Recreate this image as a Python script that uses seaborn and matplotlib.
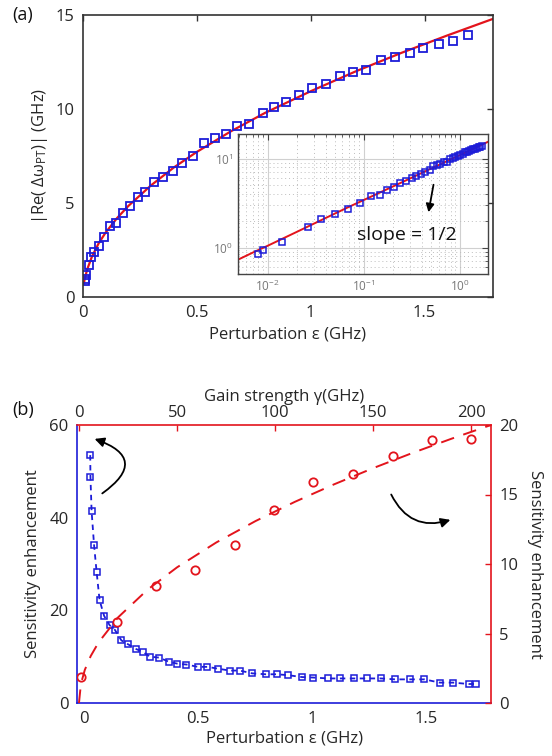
import matplotlib
matplotlib.use('Agg')
import matplotlib.pyplot as plt
import seaborn as sns

# ---- data ----
# (a) frequency splitting vs perturbation
eps_a = [0.008, 0.009, 0.014, 0.026, 0.036, 0.050, 0.069, 0.092, 0.12, 0.146, 0.175, 0.205,
         0.241, 0.275, 0.314, 0.351, 0.396, 0.436, 0.484, 0.531, 0.579, 0.627, 0.677,
         0.728, 0.791, 0.839, 0.890, 0.949, 1.007, 1.066, 1.127, 1.186, 1.241, 1.307,
         1.371, 1.434, 1.493, 1.563, 1.624, 1.690]
split_a = [0.85, 0.95, 1.15, 1.72, 2.11, 2.38, 2.71, 3.21, 3.78, 3.92, 4.48, 4.84,
           5.34, 5.60, 6.13, 6.40, 6.72, 7.14, 7.52, 8.21, 8.47, 8.67, 9.11,
           9.23, 9.80, 10.12, 10.39, 10.74, 11.10, 11.33, 11.76, 11.98, 12.07, 12.61,
           12.78, 12.96, 13.23, 13.44, 13.62, 13.94]
fit_eps = [0.0045, 0.007, 0.01, 0.02, 0.04, 0.07, 0.1, 0.15, 0.2, 0.3, 0.4, 0.5, 0.65,
           0.8, 1.0, 1.2, 1.4, 1.6, 1.8, 2.0]
fit_split = [0.70, 0.88, 1.05, 1.50, 2.15, 2.87, 3.43, 4.20, 4.85, 5.95, 6.90, 7.72, 8.82,
             9.80, 10.95, 12.02, 13.00, 13.92, 14.80, 15.60]

# (b) sensitivity enhancement
eps_b = [0.027, 0.028, 0.033, 0.044, 0.055, 0.068, 0.088, 0.112, 0.135, 0.164, 0.192,
         0.226, 0.258, 0.29, 0.329, 0.372, 0.408, 0.449, 0.5, 0.541, 0.588, 0.639,
         0.683, 0.737, 0.796, 0.845, 0.896, 0.955, 1.003, 1.072, 1.123, 1.186, 1.24,
         1.302, 1.365, 1.428, 1.493, 1.56, 1.619, 1.687, 1.72]
sens_eps = [53.5, 48.8, 41.4, 34.0, 28.3, 22.2, 18.8, 16.8, 15.8, 13.5, 12.7,
            11.7, 11.0, 10.0, 9.8, 8.9, 8.5, 8.3, 7.8, 7.8, 7.4, 7.0,
            7.0, 6.4, 6.2, 6.2, 6.0, 5.6, 5.5, 5.3, 5.3, 5.3, 5.3,
            5.3, 5.1, 5.1, 5.1, 4.4, 4.4, 4.1, 4.1]
gamma = [1.0, 19.5, 39.1, 59.2, 79.6, 99.5, 119.2, 139.6, 160.0, 180.0, 199.8]
sens_gamma = [1.85, 5.85, 8.44, 9.6, 11.4, 13.9, 15.9, 16.5, 17.8, 18.9, 19.0]
fit_gamma = [0, 1, 3, 6, 10, 20, 35, 50, 70, 90, 110, 130, 150, 170, 190, 210]
fit_sens = [0, 1.38, 2.39, 3.38, 4.36, 6.17, 8.16, 9.76, 11.55, 13.09, 14.47, 15.73,
            16.90, 17.99, 19.02, 20.0]

BLUE = '#1c1cd8'
RED = '#e3141c'

sns.set_style('white')
plt.rcParams['font.family'] = ['Open Sans', 'DejaVu Sans']
plt.rcParams['mathtext.fontset'] = 'custom'
plt.rcParams['mathtext.rm'] = 'Open Sans'
plt.rcParams['mathtext.it'] = 'Open Sans'
plt.rcParams['xtick.direction'] = 'in'
plt.rcParams['ytick.direction'] = 'in'
plt.rcParams['text.color'] = '#111111'

fig = plt.figure(figsize=(5.52, 7.56), dpi=100)
fs = 12

# ---------------- panel (a) ----------------
ax = fig.add_axes([0.150, 0.607, 0.743, 0.373])
sns.lineplot(x=fit_eps, y=fit_split, ax=ax, color=RED, lw=1.6, sort=False, estimator=None)
sns.lineplot(x=eps_a, y=split_a, ax=ax, marker='s', markersize=6, markerfacecolor='none',
             markeredgecolor=BLUE, markeredgewidth=1.3, linestyle='', sort=False, estimator=None)
ax.set_xlim(0, 1.8)
ax.set_ylim(0, 15)
ax.set_xticks([0, 0.5, 1, 1.5])
ax.set_xticklabels(['0', '0.5', '1', '1.5'])
ax.set_yticks([0, 5, 10, 15])
ax.tick_params(labelsize=fs, top=True, right=True, length=4, width=1, color='#333333', pad=6)
for s in ax.spines.values():
    s.set_color('#333333')
    s.set_linewidth(1.2)
ax.set_xlabel('Perturbation ε (GHz)', fontsize=fs, labelpad=4)
ax.set_ylabel(r'|Re( Δω$_{\mathrm{PT}}$)| (GHz)', fontsize=fs, labelpad=4)
fig.text(0.022, 0.980, '(a)', fontsize=13, va='center')

# inset (log-log)
ins = fig.add_axes([0.431, 0.638, 0.453, 0.185])
sns.lineplot(x=fit_eps, y=fit_split, ax=ins, color=RED, lw=1.4, sort=False, estimator=None)
sns.lineplot(x=eps_a, y=split_a, ax=ins, marker='s', markersize=4.5, markerfacecolor='none',
             markeredgecolor=BLUE, markeredgewidth=1.1, linestyle='', sort=False, estimator=None)
ins.set_xscale('log')
ins.set_yscale('log')
ins.set_xlim(0.0049, 1.96)
ins.set_ylim(0.51, 19)
ins.grid(which='major', color='#d0d0d0', lw=0.8, ls='-')
ins.grid(which='minor', color='#bdbdbd', lw=0.7, ls=(0, (1, 3)))
ins.tick_params(which='both', labelsize=8.5, labelcolor='#777777', top=True, right=True,
                color='#444444')
ins.tick_params(which='major', length=4)
ins.tick_params(which='minor', length=2)
for s in ins.spines.values():
    s.set_color('#444444')
    s.set_linewidth(1.0)
fig.text(407 / 552, 1 - 235 / 756, 'slope = 1/2', fontsize=14, ha='center', va='center')
ins.annotate('', xy=(428, 756 - 215), xytext=(434, 756 - 182), xycoords='figure pixels',
             textcoords='figure pixels',
             arrowprops=dict(arrowstyle='-|>', color='black', lw=1.3, mutation_scale=12))

# ---------------- panel (b) ----------------
pos_b = [77 / 552, 1 - 703 / 756, 414 / 552, 278 / 756]
axb = fig.add_axes(pos_b)
sns.lineplot(x=eps_b, y=sens_eps, ax=axb, color=BLUE, lw=1.3, linestyle=(0, (3, 2.5)),
             marker='s', markersize=4.5, markerfacecolor='none', markeredgecolor=BLUE,
             markeredgewidth=1.1, sort=False, estimator=None)
axb.set_xlim(-0.031, 1.785)
axb.set_ylim(0, 60)
axb.set_xticks([0, 0.5, 1, 1.5])
axb.set_xticklabels(['0', '0.5', '1', '1.5'])
axb.set_yticks([0, 20, 40, 60])
axb.tick_params(labelsize=fs, length=4, width=1, color=BLUE, pad=6)
axb.spines['top'].set_visible(False)
axb.spines['right'].set_visible(False)
axb.spines['left'].set_color(BLUE)
axb.spines['bottom'].set_color(BLUE)
axb.spines['left'].set_linewidth(1.2)
axb.spines['bottom'].set_linewidth(1.2)
axb.set_xlabel('Perturbation ε (GHz)', fontsize=fs, labelpad=2)
axb.set_ylabel('Sensitivity enhancement', fontsize=fs, labelpad=6)

axg = fig.add_axes(pos_b, facecolor='none')
sns.lineplot(x=fit_gamma, y=fit_sens, ax=axg, color=RED, lw=1.4, linestyle=(0, (7, 5)),
             sort=False, estimator=None)
sns.lineplot(x=gamma, y=sens_gamma, ax=axg, marker='o', markersize=6, markerfacecolor='none',
             markeredgecolor=RED, markeredgewidth=1.3, linestyle='', sort=False, estimator=None)
axg.set_xlim(-1, 210)
axg.set_ylim(0, 20)
axg.xaxis.tick_top()
axg.xaxis.set_label_position('top')
axg.yaxis.tick_right()
axg.yaxis.set_label_position('right')
axg.set_xticks([0, 50, 100, 150, 200])
axg.set_yticks([0, 5, 10, 15, 20])
axg.tick_params(axis='x', labelsize=fs, length=4, width=1, color=RED, pad=3)
axg.tick_params(axis='y', labelsize=fs, length=4, width=1, color=RED, pad=6)
axg.spines['bottom'].set_visible(False)
axg.spines['left'].set_visible(False)
axg.spines['top'].set_color(RED)
axg.spines['right'].set_color(RED)
axg.spines['top'].set_linewidth(1.2)
axg.spines['right'].set_linewidth(1.2)
axg.set_xlabel('Gain strength γ(GHz)', fontsize=fs, labelpad=3)
axg.set_ylabel('Sensitivity enhancement', fontsize=fs, rotation=270, labelpad=18)
fig.text(0.022, 1 - 410 / 756, '(b)', fontsize=13, va='center')

# curved arrows
axb.annotate('', xy=(92, 756 - 438), xytext=(100, 756 - 495), xycoords='figure pixels',
             textcoords='figure pixels',
             arrowprops=dict(arrowstyle='-|>', color='black', lw=1.3, mutation_scale=14,
                             connectionstyle='arc3,rad=1.0'))
axb.annotate('', xy=(453, 756 - 519), xytext=(390, 756 - 492), xycoords='figure pixels',
             textcoords='figure pixels',
             arrowprops=dict(arrowstyle='-|>', color='black', lw=1.3, mutation_scale=14,
                             connectionstyle='arc3,rad=0.45'))

fig.savefig('out.png', dpi=100)
